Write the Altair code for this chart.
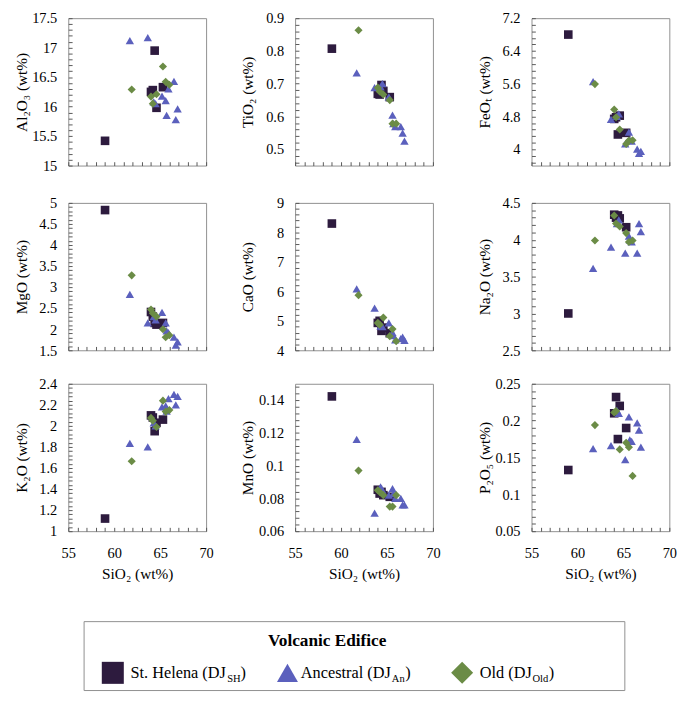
import altair as alt
import numpy as np
import pandas as pd

FONT = "Liberation Serif"

GROUPS = ["St. Helena", "Ancestral", "Old"]
COLORS = ["#2D1B3E", "#5B60BD", "#6B8C46"]
SHAPES = ["square", "triangle-up", "diamond"]
SIZES = [81, 72, 78]

# SiO2 (wt%) of each sample, per volcanic edifice
SIO2_SH = [59.0, 64.0, 64.2, 64.4, 64.6, 65.3]
SIO2_AN = [61.7, 63.65, 64.3, 64.5, 65.2, 65.6, 65.7, 65.9, 66.5, 66.7, 66.9]
SIO2_OLD = [61.9, 64.0, 64.2, 64.6, 65.3, 65.6, 66.0]

AL2O3_SH = [15.42, 16.25, 16.28, 16.95, 15.98, 16.33]
AL2O3_AN = [17.12, 17.17, 16.08, 16.05, 16.18, 16.10, 15.85, 16.30, 16.43, 15.78, 15.96]
AL2O3_OLD = [16.29, 16.17, 16.05, 16.21, 16.68, 16.42, 16.37]

TIO2_SH = [0.807, 0.669, 0.667, 0.696, 0.678, 0.659]
TIO2_AN = [0.733, 0.688, 0.690, 0.700, 0.660, 0.604, 0.578, 0.569, 0.569, 0.549, 0.525]
TIO2_OLD = [0.863, 0.688, 0.676, 0.667, 0.650, 0.578, 0.578]

FEOT_SH = [6.80, 4.74, 4.78, 4.36, 4.82, 4.40]
FEOT_AN = [5.65, 4.73, 4.80, 4.86, 4.13, 4.42, 4.23, 4.20, 4.00, 3.90, 3.95]
FEOT_OLD = [5.59, 4.97, 4.78, 4.48, 4.13, 4.21, 4.22]

MGO_SH = [4.83, 2.41, 2.30, 2.15, 2.11, 2.15]
MGO_AN = [2.83, 2.15, 2.30, 2.22, 2.40, 2.15, 1.96, 1.92, 1.81, 1.62, 1.70]
MGO_OLD = [3.28, 2.47, 2.38, 2.30, 2.00, 1.81, 1.86]

CAO_SH = [8.30, 4.93, 5.00, 4.66, 4.77, 4.58]
CAO_AN = [6.08, 5.43, 4.82, 4.80, 4.93, 4.60, 4.50, 4.35, 4.40, 4.45, 4.34]
CAO_OLD = [5.87, 4.93, 4.87, 5.11, 4.48, 4.72, 4.31]

NA2O_SH = [3.00, 4.34, 4.30, 4.33, 4.29, 4.17]
NA2O_AN = [3.61, 3.90, 4.22, 4.27, 3.82, 4.05, 4.00, 3.97, 3.82, 4.22, 4.11]
NA2O_OLD = [3.99, 4.33, 4.22, 4.18, 4.09, 3.97, 3.99]

K2O_SH = [1.12, 2.10, 2.08, 1.95, 2.03, 2.06]
K2O_AN = [1.835, 1.80, 2.03, 2.00, 2.18, 2.19, 2.14, 2.26, 2.30, 2.20, 2.28]
K2O_OLD = [1.664, 2.076, 2.05, 1.99, 2.24, 2.136, 2.15]

MNO_SH = [0.1423, 0.0853, 0.083, 0.084, 0.082, 0.081]
MNO_AN = [0.116, 0.071, 0.087, 0.085, 0.082, 0.086, 0.083, 0.080, 0.080, 0.076, 0.076]
MNO_OLD = [0.097, 0.085, 0.084, 0.082, 0.075, 0.075, 0.082]

P2O5_SH = [0.133, 0.210, 0.232, 0.175, 0.220, 0.190]
P2O5_AN = [0.162, 0.166, 0.214, 0.210, 0.147, 0.205, 0.174, 0.172, 0.197, 0.187, 0.164]
P2O5_OLD = [0.194, 0.211, 0.213, 0.161, 0.170, 0.164, 0.125]

SIO2 = [SIO2_SH, SIO2_AN, SIO2_OLD]

# panel: (values per group, y title, domain, labelled ticks, minor tick step)
PANELS = [
    ([AL2O3_SH, AL2O3_AN, AL2O3_OLD], "Al\u2082O\u2083 (wt%)", [15, 17.5], [15, 15.5, 16, 16.5, 17, 17.5], 0.1),
    ([TIO2_SH, TIO2_AN, TIO2_OLD], "TiO\u2082 (wt%)", [0.45, 0.9], [0.5, 0.6, 0.7, 0.8, 0.9], 0.02),
    ([FEOT_SH, FEOT_AN, FEOT_OLD], "FeO\u209c (wt%)", [3.6, 7.2], [4, 4.8, 5.6, 6.4, 7.2], 0.16),
    ([MGO_SH, MGO_AN, MGO_OLD], "MgO (wt%)", [1.5, 5], [1.5, 2, 2.5, 3, 3.5, 4, 4.5, 5], 0.1),
    ([CAO_SH, CAO_AN, CAO_OLD], "CaO (wt%)", [4, 9], [4, 5, 6, 7, 8, 9], 0.2),
    ([NA2O_SH, NA2O_AN, NA2O_OLD], "Na\u2082O (wt%)", [2.5, 4.5], [2.5, 3, 3.5, 4, 4.5], 0.1),
    ([K2O_SH, K2O_AN, K2O_OLD], "K\u2082O (wt%)", [1, 2.4], [1, 1.2, 1.4, 1.6, 1.8, 2, 2.2, 2.4], 0.04),
    ([MNO_SH, MNO_AN, MNO_OLD], "MnO (wt%)", [0.06, 0.15], [0.06, 0.08, 0.1, 0.12, 0.14], 0.004),
    ([P2O5_SH, P2O5_AN, P2O5_OLD], "P\u2082O\u2085 (wt%)", [0.05, 0.25], [0.05, 0.1, 0.15, 0.2, 0.25], 0.01),
]

X_DOMAIN = [55, 70]
X_LABELS = [55, 60, 65, 70]
X_MINOR = list(range(55, 71))

LEGEND_TITLE = "Volcanic Edifice"
LEGEND_NAMES = ["St. Helena (DJ", "Ancestral (DJ", "Old (DJ"]
LEGEND_SUBS = ["SH", "An", "Old"]

PW, PH = 144, 154
TICK_COLOR = "#555555"


def minor_ticks(lo, hi, step):
    first = np.ceil(lo / step - 1e-6) * step
    vals = np.arange(first, hi + step * 0.01, step)
    return [round(float(v), 6) for v in vals if lo - 1e-9 <= v <= hi + 1e-9]


def panel(values, ytitle, ydom, ylabels, ystep, bottom_row):
    rows = []
    for g, xs_, ys_ in zip(GROUPS, SIO2, values):
        for s, v in zip(xs_, ys_):
            rows.append({"group": g, "SiO2": s, "value": v})
    df = pd.DataFrame(rows)
    xs = alt.Scale(domain=X_DOMAIN, nice=False, zero=False)
    ys = alt.Scale(domain=ydom, nice=False, zero=False)

    if bottom_row:
        x_axis = alt.Axis(values=X_LABELS, format=".2~f", ticks=False, tickSize=0, domain=False,
                          grid=False, labelPadding=16, titlePadding=5, title="SiO\u2082 (wt%)",
                          orient="bottom", labelFlush=False, labelOverlap=False)
    else:
        # same label footprint as the bottom row (keeps columns aligned), but invisible
        x_axis = alt.Axis(values=X_LABELS, format=".2~f", ticks=False, tickSize=0, domain=False,
                          grid=False, labelPadding=0, labelOpacity=0, title=None,
                          orient="bottom", labelFlush=False, labelOverlap=False)
    y_axis = alt.Axis(values=ylabels, format=".2~f", ticks=False, tickSize=0, domain=False, grid=False,
                      labelPadding=12, title=ytitle, titlePadding=1, minExtent=40, maxExtent=40,
                      orient="left", labelFlush=False, labelOverlap=False)

    pts = alt.Chart(df).mark_point(filled=True, opacity=1).encode(
        x=alt.X("SiO2:Q", scale=xs, axis=x_axis),
        y=alt.Y("value:Q", scale=ys, axis=y_axis),
        color=alt.Color("group:N", scale=alt.Scale(domain=GROUPS, range=COLORS), legend=None),
        shape=alt.Shape("group:N", scale=alt.Scale(domain=GROUPS, range=SHAPES), legend=None),
        size=alt.Size("group:N", scale=alt.Scale(domain=GROUPS, range=SIZES), legend=None),
    )
    tick_x = alt.Axis(values=X_MINOR, labels=False, ticks=True, tickSize=4, offset=-4, domain=False,
                      grid=False, title=None, orient="bottom", tickColor=TICK_COLOR)
    tick_y = alt.Axis(values=minor_ticks(ydom[0], ydom[1], ystep), labels=False, ticks=True, tickSize=4,
                      offset=-4, domain=False, grid=False, title=None, orient="left", tickColor=TICK_COLOR)
    ticks = alt.Chart(df).mark_point(opacity=0).encode(
        x=alt.X("SiO2:Q", scale=xs, axis=tick_x),
        y=alt.Y("value:Q", scale=ys, axis=tick_y),
    )
    return alt.layer(ticks, pts).resolve_axis(x="independent", y="independent").properties(
        width=PW, height=PH)


row_charts = []
for r in range(3):
    p = [panel(*PANELS[r * 3 + c], bottom_row=(r == 2)) for c in range(3)]
    row_charts.append(alt.hconcat(alt.hconcat(p[0], p[1], spacing=27), p[2], spacing=37))
grid = alt.vconcat(alt.vconcat(row_charts[0], row_charts[1], spacing=15), row_charts[2], spacing=11)

# legend box
one = pd.DataFrame({"k": [0]})
LW, LH = 565, 72


def txt(s, x, y, size=17, bold=False, align="left", baseline="alphabetic"):
    return alt.Chart(one).mark_text(
        text=s, font=FONT, fontSize=size, fontWeight="bold" if bold else "normal",
        align=align, baseline=baseline, color="black"
    ).encode(x=alt.value(x), y=alt.value(y))


sym_x = [30.5, 213, 395.5]
lab_x = [49, 227, 414]
sub_x = [150, 322, 469]
par_x = [164, 336, 486]
layers = [txt(LEGEND_TITLE, 254.5, 21, size=18, bold=True, align="center", baseline="middle")]
for i in range(3):
    layers.append(alt.Chart(one).mark_point(shape=SHAPES[i], filled=True, opacity=1, color=COLORS[i],
                                            size=[529, 480, 529][i]).encode(
        x=alt.value(sym_x[i]), y=alt.value(54)))
    layers.append(txt(LEGEND_NAMES[i], lab_x[i], 59))
    layers.append(txt(LEGEND_SUBS[i], sub_x[i], 64, size=11))
    layers.append(txt(")", par_x[i], 59))
legend = alt.layer(*layers).properties(width=LW, height=LH)
spacer = alt.Chart(one).mark_point(opacity=0).encode(x=alt.value(0), y=alt.value(0)).properties(
    width=14, height=LH, view=alt.ViewBackground(stroke="transparent"))
legend_row = alt.hconcat(spacer, legend, spacing=0)

chart = alt.vconcat(grid, legend_row, spacing=37).properties(
    padding={"left": 5, "top": -13, "right": 0, "bottom": 0}
).configure_view(stroke="#8c8c8c", strokeWidth=1).configure_axis(
    labelFont=FONT, titleFont=FONT, labelColor="black", titleColor="black",
    labelFontSize=15, titleFontSize=16, titleFontWeight="normal"
)

chart.save("out.html", embed_options={"renderer": "svg", "actions": False})
